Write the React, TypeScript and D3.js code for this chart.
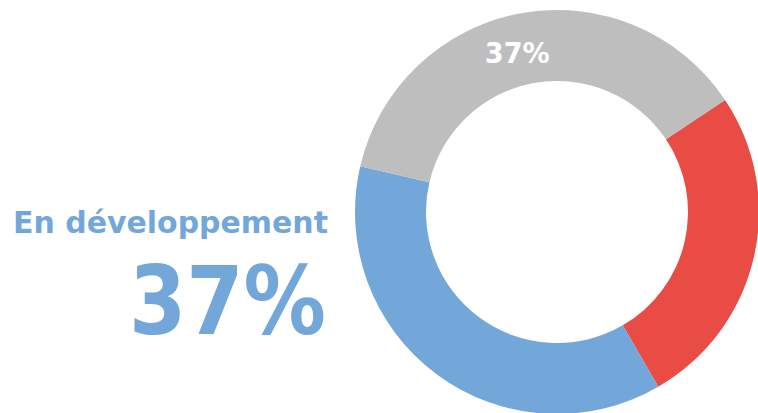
import React from "react";
import * as d3 from "d3";

const categories = ["Autre", "En développement", "Terminé"];
const values = [26, 37, 37];
const colors = ["#E84C44", "#73A7D9", "#BEBEBE"];
const highlight = "En développement";

const W = 758;
const H = 413;
const CX = 557;
const CY = 212;
const R_OUT = 202;
const R_IN = 131;
const START = (56.3 * Math.PI) / 180;

export default function App() {
  const total = d3.sum(values);
  const pie = d3
    .pie<number>()
    .sort(null)
    .startAngle(START)
    .endAngle(START + 2 * Math.PI);
  const arcs = pie(values);
  const arc = d3.arc<d3.PieArcDatum<number>>().innerRadius(R_IN).outerRadius(R_OUT);
  const fmt = (v: number) => `${Math.round((v / total) * 100)}%`;
  const hi = categories.indexOf(highlight);
  const labelIdx = 2;
  const c = arc.centroid(arcs[labelIdx]);

  return (
    <svg
      width={W}
      height={H}
      style={{ position: "absolute", left: 0, top: 0, background: "#fff" }}
    >
      <g transform={`translate(${CX},${CY})`}>
        {arcs.map((a, i) => (
          <path key={i} d={arc(a) || ""} fill={colors[i]} />
        ))}
        <text
          x={c[0] - 10}
          y={c[1] + 15}
          textAnchor="middle"
          fill="#fff"
          fontFamily="DejaVu Sans"
          fontWeight="bold"
          fontSize={28}
          textLength={65}
          lengthAdjust="spacingAndGlyphs"
        >
          {fmt(values[labelIdx])}
        </text>
      </g>
      <text
        x={328}
        y={233}
        textAnchor="end"
        fill={colors[hi]}
        fontFamily="DejaVu Sans"
        fontWeight="bold"
        fontSize={30}
        textLength={315}
        lengthAdjust="spacingAndGlyphs"
      >
        {highlight}
      </text>
      <text
        x={326}
        y={334}
        textAnchor="end"
        fill={colors[hi]}
        fontFamily="DejaVu Sans"
        fontWeight="bold"
        fontSize={95}
        textLength={197}
        lengthAdjust="spacingAndGlyphs"
      >
        {fmt(values[hi])}
      </text>
    </svg>
  );
}
